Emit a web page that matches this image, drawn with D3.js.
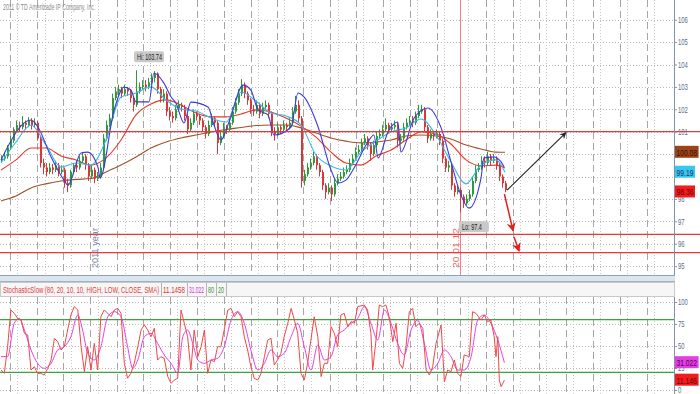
<!DOCTYPE html>
<html>
<head>
<meta charset="utf-8">
<script src="https://cdn.jsdelivr.net/npm/d3@7"></script>
<style>
  body { margin: 0; background: #fff; }
  svg { display: block; font-family: "Liberation Sans", Arial, sans-serif; }
</style>
</head>
<body>
<svg id="chart"></svg>
<script>
// ---- Data ----
// daily bars, open = previous close
const firstOpen = 99.7;
const closes = [
  99.8, 99.9, 100.3, 100.6, 101.1, 101.3, 101.2, 101.4, 101.3, 101.5,
  101.3, 101.4, 100.7, 99.6, 99.4, 99.2, 99.4, 99.3, 99.5, 99.2,
  99.3, 98.7, 98.6, 99.2, 99.5, 99.4, 99.7, 99.9, 99.5, 99.0,
  99.3, 98.9, 99.0, 99.4, 100.7, 101.3, 101.6, 102.5, 102.8, 102.9,
  102.7, 102.9, 102.8, 102.5, 102.2, 102.8, 103.0, 103.1, 103.0, 103.2,
  103.4, 103.6, 102.9, 102.5, 102.7, 101.9, 101.7, 101.6, 102.0, 102.2,
  102.1, 101.7, 101.1, 101.4, 101.8, 101.7, 101.5, 101.2, 100.9, 101.3,
  101.6, 101.4, 100.5, 100.8, 101.2, 101.1, 101.4, 101.9, 102.3, 102.7,
  103.1, 102.7, 102.4, 102.0, 101.9, 102.2, 101.8, 102.1, 102.2, 101.8,
  101.0, 100.9, 101.2, 101.1, 101.3, 101.2, 101.4, 101.9, 102.2, 101.6,
  98.8, 99.1, 99.4, 99.6, 99.9, 99.5, 99.2, 98.6, 98.3, 98.5,
  98.2, 98.7, 98.9, 99.0, 99.2, 99.3, 99.6, 99.8, 100.1, 100.2,
  100.5, 100.7, 100.4, 100.0, 100.4, 100.8, 100.9, 101.1, 101.3, 101.1,
  101.2, 101.3, 100.6, 100.7, 101.2, 101.4, 101.5, 101.4, 101.7, 101.9,
  102.0, 101.2, 100.7, 100.9, 100.8, 100.9, 100.6, 99.8, 99.4, 99.5,
  98.6, 98.3, 98.4, 98.1, 97.8, 98.0, 98.2, 98.8, 99.3, 99.4,
  99.7, 99.6, 99.9, 99.7, 99.8, 99.5, 99.0, 98.7, 98.4
];
const highs = [
  99.95, 100.1, 100.4, 100.8, 101.2, 101.5, 101.45, 101.7, 101.5, 101.65,
  101.6, 101.6, 101.5, 100.8, 99.8, 99.6, 99.6, 99.55, 99.7, 99.6,
  99.5, 99.4, 98.9, 99.3, 99.6, 99.7, 99.9, 100.1, 100.0, 99.6,
  99.5, 99.4, 99.2, 99.6, 100.9, 101.5, 101.8, 102.7, 103.0, 103.1,
  103.0, 103.1, 103.0, 102.9, 102.6, 103.74, 103.2, 103.3, 103.3, 103.4,
  103.6, 103.7, 103.65, 103.0, 102.9, 102.8, 102.1, 101.9, 102.2, 102.4,
  102.3, 102.2, 101.8, 101.6, 102.0, 101.9, 101.8, 101.6, 101.3, 101.5,
  101.8, 101.7, 101.5, 101.0, 101.4, 101.3, 101.6, 102.1, 102.5, 102.9,
  103.35, 103.2, 102.8, 102.5, 102.2, 102.4, 102.3, 102.3, 102.4, 102.3,
  101.9, 101.2, 101.4, 101.3, 101.5, 101.4, 101.6, 102.1, 102.6, 102.4,
  101.7, 99.3, 99.6, 99.8, 100.1, 100.0, 99.6, 99.3, 98.7, 98.7,
  98.6, 98.9, 99.1, 99.2, 99.4, 99.5, 99.8, 100.0, 100.3, 100.4,
  100.7, 100.9, 100.8, 100.5, 100.6, 101.0, 101.1, 101.3, 101.6, 101.4,
  101.4, 101.5, 101.4, 100.9, 101.4, 101.6, 101.7, 101.7, 101.9, 102.2,
  102.2, 102.1, 101.3, 101.1, 101.0, 101.1, 101.0, 100.7, 99.9, 99.7,
  99.6, 98.7, 98.6, 98.5, 98.2, 98.2, 98.4, 99.0, 99.5, 99.6,
  99.9, 99.9, 100.1, 100.0, 100.0, 99.9, 99.6, 99.1, 98.8
];
const lows = [
  99.6, 99.7, 99.8, 100.2, 100.5, 101.0, 101.0, 101.1, 101.1, 101.2,
  101.1, 101.2, 100.6, 99.4, 99.1, 99.0, 99.1, 99.1, 99.2, 99.0,
  99.1, 98.5, 98.3, 98.5, 99.1, 99.2, 99.3, 99.6, 99.3, 98.8,
  98.9, 98.7, 98.8, 98.9, 99.3, 100.6, 101.2, 101.5, 102.4, 102.6,
  102.5, 102.6, 102.6, 102.3, 101.9, 102.1, 102.7, 102.9, 102.8, 102.9,
  103.1, 103.2, 102.7, 102.3, 102.3, 101.7, 101.5, 101.4, 101.5, 101.9,
  101.9, 101.5, 100.9, 101.0, 101.3, 101.5, 101.3, 101.0, 100.7, 100.8,
  101.2, 101.2, 100.0, 100.4, 100.7, 100.9, 101.0, 101.3, 101.8, 102.2,
  102.6, 102.5, 102.2, 101.8, 101.7, 101.8, 101.6, 101.7, 102.0, 101.6,
  100.8, 100.6, 100.8, 100.9, 101.0, 101.0, 101.1, 101.3, 101.8, 101.4,
  98.5, 98.6, 99.0, 99.3, 99.5, 99.3, 99.0, 98.4, 98.0, 98.2,
  97.9, 98.1, 98.6, 98.8, 98.9, 99.1, 99.2, 99.5, 99.7, 100.0,
  100.1, 100.4, 100.2, 99.7, 99.9, 100.3, 100.7, 100.8, 101.0, 100.9,
  101.0, 101.1, 100.3, 100.5, 100.6, 101.1, 101.3, 101.2, 101.3, 101.6,
  101.8, 101.0, 100.5, 100.6, 100.6, 100.7, 100.4, 99.6, 99.2, 99.2,
  98.4, 98.1, 98.2, 97.4, 97.6, 97.7, 97.9, 98.1, 98.7, 99.2,
  99.3, 99.4, 99.5, 99.5, 99.6, 99.3, 98.8, 98.5, 98.3
];

// moving averages, read every 5 bars
const maBars = [0, 5, 10, 15, 20, 25, 30, 35, 40, 45, 50, 55, 60, 65, 70, 75, 80, 85, 90, 95,
  100, 105, 110, 115, 120, 125, 130, 135, 140, 145, 150, 155, 160, 165, 168];
const smaLong = [97.91, 98.13, 98.49, 98.67, 98.80, 98.87, 98.91, 99.20, 99.51, 99.87,
  100.27, 100.54, 100.72, 100.85, 100.99, 101.10, 101.19, 101.28, 101.30, 101.30,
  101.17, 100.94, 100.72, 100.58, 100.50, 100.54, 100.63, 100.81, 100.85, 100.81,
  100.67, 100.41, 100.23, 100.09, 100.08];
const smaMid = [99.29, 99.74, 100.27, 100.27, 99.92, 99.74, 99.51, 99.83, 100.63, 101.75,
  102.24, 102.42, 102.19, 101.83, 101.66, 101.66, 101.79, 101.97, 101.88, 101.61,
  101.25, 100.76, 100.09, 99.60, 99.51, 99.92, 100.18, 100.63, 100.99, 100.90,
  100.45, 99.74, 99.47, 99.51, 99.38];
const emaFast = [99.60, 100.54, 101.30, 100.41, 99.42, 99.60, 99.51, 100.63, 102.55, 102.73,
  103.00, 102.42, 102.01, 101.92, 101.61, 101.43, 102.77, 102.37, 101.83, 101.70,
  101.30, 99.96, 99.47, 99.29, 100.09, 100.58, 100.99, 101.17, 101.57, 100.85,
  99.65, 98.67, 99.51, 99.74, 99.19];
// blue line has sharp turns, so it is read at its corners
const blueBars = [0, 10, 12.3, 16.7, 21, 22.3, 26.7, 29, 32.3, 33,
  37.7, 41, 43.3, 45, 49.3, 51, 54.3, 56.7, 58.3, 61,
  63.3, 69, 71, 73.3, 76, 80.7, 83.3, 85.7, 89, 91,
  96.7, 99, 101, 105.7, 110, 112.3, 115, 117.7, 122.3, 124.3,
  125.7, 129, 132.3, 133.3, 137.7, 142.3, 146.7, 150, 153.3, 156,
  160, 161, 164.3, 166.7, 167.7];
const blueVals = [99.74, 101.52, 101.21, 99.87, 98.84, 98.62, 100.05, 100.09, 99.42, 98.93,
  101.97, 102.99, 102.86, 102.33, 102.33, 103.62, 103.17, 102.55, 102.28, 101.39,
  102.32, 102.10, 101.30, 100.63, 101.43, 103.08, 102.86, 101.97, 101.75, 100.85,
  101.21, 102.73, 102.55, 101.21, 99.29, 98.71, 98.84, 99.38, 100.54, 100.85,
  99.83, 100.99, 101.43, 100.09, 101.61, 102.06, 101.17, 99.65, 98.17, 97.59,
  98.93, 99.83, 99.87, 99.65, 99.42];

// stochastic slow: [bar, value]
const stochK = [[0,22.7],[1.1,18.9],[2.2,49.2],[3.3,90.9],[4.4,87.1],[5.6,81.4],[6.7,79.5],[7.8,64.4],[8.9,62.5],
  [10,22.7],[11.1,26.5],[12.2,18.9],[13.3,18.9],[14.4,17.0],[15.6,24.6],[16.7,34.1],[17.8,58.7],[18.9,54.9],
  [20,45.5],[21.1,49.2],[22.2,68.2],[23.3,85.2],[24.4,94.7],[25.6,90.9],[26.7,49.2],[27.8,20.8],[28.9,49.2],
  [30,22.7],[31.1,53.0],[32.2,22.7],[33.3,83.3],[34.4,90.9],[35.6,87.1],[36.7,83.3],[37.8,90.9],[38.9,92.8],
  [40,87.1],[41.1,30.3],[42.2,13.3],[43.3,18.9],[44.4,30.3],[45.6,49.2],[46.7,68.2],[47.8,73.9],[48.9,68.2],
  [50,60.6],[51.1,70.1],[52.2,34.1],[53.3,37.9],[54.4,36.0],[55.6,15.2],[56.7,7.6],[57.8,11.4],[58.9,13.3],
  [60,90.9],[61.1,75.8],[62.2,60.6],[63.3,22.7],[64.4,68.2],[65.6,37.9],[66.7,49.2],[67.8,68.2],[68.9,18.9],
  [70,34.1],[71.1,32.2],[72.2,49.2],[73.3,49.2],[74.4,68.2],[75.6,90.9],[76.7,92.8],[77.8,83.3],[78.9,89.0],
  [80,83.3],[81.1,60.6],[82.2,45.5],[83.3,26.5],[84.4,13.3],[85.6,11.4],[86.7,18.9],[87.8,37.9],[88.9,56.8],
  [90,58.7],[91.1,28.4],[92.2,34.1],[93.3,41.7],[94.4,60.6],[95.6,75.8],[96.7,92.8],[97.8,79.5],[98.9,64.4],
  [100,18.9],[101.1,11.4],[102.2,30.3],[103.3,56.8],[104.4,83.3],[105.6,60.6],[106.7,15.2],[107.8,30.3],[108.9,30.3],
  [110,72.0],[111.1,64.4],[112.2,49.2],[113.3,85.2],[114.4,87.1],[115.6,72.0],[116.7,77.7],[117.8,75.8],[118.9,94.7],
  [121.1,96.6],[122.2,90.9],[123.3,64.4],[123.9,22.7],[125,56.8],[126.1,96.6],[127.2,94.7],[128.3,96.6],[129.4,83.3],
  [130.6,54.9],[131.7,75.8],[132.8,30.3],[133.9,24.6],[135,49.2],[136.1,89.0],[137.2,92.8],[138.3,72.0],[139.4,75.8],
  [140.6,70.1],[141.7,22.7],[142.8,17.0],[143.9,26.5],[145,53.0],[146.7,73.9],[147.8,9.5],[148.9,22.7],[150,20.8],
  [151.1,34.1],[152.2,18.9],[153.3,15.2],[154.4,39.8],[156.1,37.9],[157.2,89.0],[158.3,87.1],[160,79.5],[161.1,85.2],
  [162.2,77.7],[163.3,79.5],[164.4,60.6],[165,37.9],[165.6,60.6],[166.1,11.4],[166.7,3.8],[167.8,11.1]];
const stochD = [[0,37.9],[2.2,37.9],[4.4,75.8],[6.1,81.4],[7.8,68.2],[10,45.5],[12.2,30.3],[14.4,24.6],[16.7,30.3],
  [18.9,45.5],[21.1,49.2],[23.3,60.6],[25.6,85.2],[27.2,68.2],[28.9,41.7],[31.1,34.1],[33.3,49.2],[35.6,83.3],
  [37.8,89.0],[40,83.3],[42.2,49.2],[43.9,24.6],[45.6,34.1],[47.8,60.6],[50,64.4],[52.2,53.0],[54.4,39.8],
  [56.7,30.3],[58.9,18.9],[60.6,60.6],[62.2,68.2],[63.9,53.0],[65.6,34.1],[67.8,30.3],[70,34.1],[72.2,36.0],
  [74.4,49.2],[76.7,79.5],[78.9,89.0],[81.1,75.8],[83.3,45.5],[85.6,22.7],[87.8,30.3],[90,45.5],[92.2,37.9],
  [94.4,41.7],[96.7,60.6],[98.9,75.8],[101.1,49.2],[103.3,22.7],[105.6,51.1],[107.8,34.1],[110,37.9],[112.2,62.5],
  [114.4,68.2],[116.7,75.8],[118.9,81.4],[121.1,94.7],[123.3,75.8],[125.6,56.8],[127.8,90.9],[130,75.8],[132.2,53.0],
  [134.4,39.8],[136.7,68.2],[138.9,79.5],[141.1,53.0],[143.3,22.7],[145.6,30.3],[147.8,45.5],[150,37.9],[152.2,22.7],
  [154.4,22.7],[156.7,37.9],[158.9,79.5],[161.1,85.2],[163.3,75.8],[165.6,56.8],[167.8,31.0]];

// levels, ticks, grid, annotations
const levels = [101.0, 96.42, 95.6];
const priceTicks = [95, 96, 97, 98, 99, 100, 101, 102, 103, 104, 105, 106];
const priceTicksCovered = [99, 100];   // hidden under the value bubbles
const stochTicks = [0, 25, 50, 75, 100];
const stochBands = [80, 20];
const majorGrid = [3, 12, 20.7, 29.7, 38.7, 47.3, 56.3, 65.3, 74.3, 83.2, 91.9, 100.8, 109.7, 118.3,
  127.3, 136.3, 145.2, 153, 161.7, 170.6, 179.3, 188.3, 197.2, 206.3, 215.2];
const minorGrid = [5.5, 14.5, 23.2, 32.2, 41.2, 49.8, 58.8, 67.8, 76.8, 85.7, 94.4, 103.3, 112.2, 120.8,
  129.8, 138.8, 147.7, 155.5, 164.2, 173.1, 181.8, 190.8, 199.7, 208.8, 217.7];
const yearMark = { bar: 32.3, label: "2011 year" };
const dateMark = { bar: 153, label: "20 01.12" };
const hiMark = { bar: 45, value: 103.74 };
const loMark = { bar: 153, value: 97.4 };
const upArrow = [[168.7, 98.39], [188.3, 100.96]];
const downArrows = [[[167.8, 98.22], [170.7, 96.57]], [[171, 96.3], [172.7, 95.67]]];
const bubbles = [
  { value: 100.08, text: "100.08", fill: "#9a4418", color: "#3a1204" },
  { value: 99.19, text: "99.19", fill: "#38c6f2", color: "#123a66" },
  { value: 98.31, text: "98.36", fill: "#f21c1c", color: "#6a0000" }
];
const stochBubbles = [
  { value: 31.022, text: "31.022", fill: "#e23ee2", color: "#560056" },
  { value: 11.146, text: "11.146", fill: "#f21c1c", color: "#6a0000" }
];
const stochTitle = "StochasticSlow (80, 20, 10, 10, HIGH, LOW, CLOSE, SMA)";
const stochReadouts = [
  { text: "11.1458", color: "#e03030" },
  { text: "31.022", color: "#d030d0" },
  { text: "80", color: "#2f9a2f" },
  { text: "20", color: "#2f9a2f" }
];
const readoutEdges = [161, 187, 206, 216, 226];

// ---- Layout ----
const W = 700, H = 394;
const axisX = 674;
const main = { top: 0, bottom: 275 };
const stoch = { top: 297, bottom: 394 };

const svg = d3.select("#chart").attr("width", W).attr("height", H);

const x = d3.scaleLinear().domain([0, 224]).range([1, 673]);
const y = d3.scaleLinear().domain([95, 106]).range([266.1, 19.7]);
const ys = d3.scaleLinear().domain([0, 100]).range([390, 302]);

// the source picture is squeezed sideways, so text is narrowed with a scale
function narrow(sel, perChar) {
  sel.each(function () {
    const t = d3.select(this);
    const tx = +t.attr("x") || 0, ty = +t.attr("y") || 0;
    const natural = this.getComputedTextLength();
    const k = natural > 0 ? (this.textContent.length * perChar) / natural : 1;
    t.attr("x", 0).attr("y", 0).attr("transform", `translate(${tx},${ty}) scale(${k},1)`);
  });
}

const defs = svg.append("defs");
defs.append("clipPath").attr("id", "clipMain").append("rect")
  .attr("x", 0).attr("y", main.top).attr("width", axisX).attr("height", main.bottom - main.top);
defs.append("clipPath").attr("id", "clipStoch").append("rect")
  .attr("x", 0).attr("y", stoch.top).attr("width", axisX).attr("height", stoch.bottom - stoch.top);
function arrowHead(id, color) {
  defs.append("marker").attr("id", id).attr("viewBox", "0 0 10 10")
    .attr("refX", 9).attr("refY", 5).attr("markerWidth", 6).attr("markerHeight", 6)
    .attr("orient", "auto-start-reverse")
    .append("path").attr("d", "M0,0 L10,5 L0,10 L3,5 Z").attr("fill", color);
}
arrowHead("arrowBlack", "#222");
arrowHead("arrowRed", "#e41c1c");

// ---- Grid ----
function drawGrid(g, top, bottom, yTicks, yScale) {
  g.selectAll("line.hgrid").data(yTicks).join("line")
    .attr("x1", 0).attr("x2", axisX)
    .attr("y1", d => Math.round(yScale(d)) + 0.5).attr("y2", d => Math.round(yScale(d)) + 0.5)
    .attr("stroke", "#b9b9b9").attr("stroke-dasharray", "1,2");
  g.append("g").selectAll("line").data(minorGrid).join("line")
    .attr("x1", d => Math.round(x(d)) + 0.5).attr("x2", d => Math.round(x(d)) + 0.5)
    .attr("y1", top).attr("y2", bottom)
    .attr("stroke", "#c4c4c4").attr("stroke-dasharray", "1,2");
  g.append("g").selectAll("line").data(majorGrid).join("line")
    .attr("x1", d => Math.round(x(d)) + 0.5).attr("x2", d => Math.round(x(d)) + 0.5)
    .attr("y1", top).attr("y2", bottom)
    .attr("stroke", "#a6a6a6").attr("stroke-dasharray", "7,4");
}

const gMain = svg.append("g");
drawGrid(gMain, main.top, main.bottom, priceTicks, y);
const gSt = svg.append("g");
drawGrid(gSt, stoch.top, stoch.bottom, stochTicks, ys);

// copyright
svg.append("text").attr("x", 3).attr("y", 10).attr("font-size", 9).attr("fill", "#8a8a8a")
  .text("2011 © TD Ameritrade IP Company, Inc.").call(narrow, 2.5);

// markers: year label and date line
gMain.append("text")
  .attr("transform", `translate(${x(yearMark.bar)},268) rotate(-90)`)
  .attr("font-size", 9).attr("fill", "#7486a2").text(yearMark.label)
  .attr("textLength", 40).attr("lengthAdjust", "spacingAndGlyphs");
gMain.append("line")
  .attr("x1", Math.round(x(dateMark.bar)) + 0.5).attr("x2", Math.round(x(dateMark.bar)) + 0.5)
  .attr("y1", main.top).attr("y2", main.bottom).attr("stroke", "#f08080");
gMain.append("text")
  .attr("transform", `translate(${x(dateMark.bar) - 1},268) rotate(-90)`)
  .attr("font-size", 9).attr("fill", "#e86a6a").text(dateMark.label)
  .attr("textLength", 40).attr("lengthAdjust", "spacingAndGlyphs");

// ---- Price panel ----
const plot = svg.append("g").attr("clip-path", "url(#clipMain)");

function maLine(vals, color, bars) {
  const pts = vals.map((v, i) => [bars[i], v]);
  plot.append("path").datum(pts)
    .attr("d", d3.line().x(d => x(d[0])).y(d => y(d[1])).curve(d3.curveMonotoneX))
    .attr("fill", "none").attr("stroke", color).attr("stroke-width", 1.1);
}
maLine(smaLong, "#a3502a", maBars);
maLine(smaMid, "#e23a2a", maBars);

// candles
const bars = closes.map((c, i) => ({ i, o: i === 0 ? firstOpen : closes[i - 1], c, h: highs[i], l: lows[i] }));
const up = "#2f9a3c", down = "#d8383a";
const candle = plot.append("g").selectAll("g").data(bars).join("g");
candle.append("line")
  .attr("x1", d => Math.round(x(d.i)) + 0.5).attr("x2", d => Math.round(x(d.i)) + 0.5)
  .attr("y1", d => y(d.h)).attr("y2", d => y(d.l))
  .attr("stroke", d => d.c >= d.o ? up : down);
candle.append("rect")
  .attr("x", d => Math.round(x(d.i)))
  .attr("width", 2)
  .attr("y", d => y(Math.max(d.o, d.c)))
  .attr("height", d => Math.max(1, Math.abs(y(d.o) - y(d.c))))
  .attr("fill", d => d.c >= d.o ? up : down);

maLine(emaFast, "#3cb6ea", maBars);
maLine(blueVals, "#3a3ad8", blueBars);

// horizontal levels
svg.append("g").selectAll("line").data(levels).join("line")
  .attr("x1", 0).attr("x2", W)
  .attr("y1", d => y(d)).attr("y2", d => y(d))
  .attr("stroke", "#e2393a").attr("stroke-width", 1.3);

// hi / lo bubbles
function bubble(bar, yTop, label) {
  const g = svg.append("g");
  const bx = x(bar) - 2;
  g.append("rect").attr("x", bx).attr("y", yTop).attr("width", 30).attr("height", 11)
    .attr("rx", 2).attr("fill", "#c9c9c9");
  g.append("text").attr("x", bx + 3).attr("y", yTop + 8.5).attr("font-size", 9)
    .attr("fill", "#222").text(label).call(narrow, 2.5);
}
bubble(hiMark.bar, y(hiMark.value) - 19, "Hi: " + hiMark.value);
bubble(loMark.bar + 0.3, y(loMark.value) + 9, "Lo: " + loMark.value);

// arrows
svg.append("line")
  .attr("x1", x(upArrow[0][0])).attr("y1", y(upArrow[0][1]))
  .attr("x2", x(upArrow[1][0])).attr("y2", y(upArrow[1][1]))
  .attr("stroke", "#222").attr("stroke-width", 1.1).attr("marker-end", "url(#arrowBlack)");
svg.append("g").selectAll("line").data(downArrows).join("line")
  .attr("x1", d => x(d[0][0])).attr("y1", d => y(d[0][1]))
  .attr("x2", d => x(d[1][0])).attr("y2", d => y(d[1][1]))
  .attr("stroke", "#e41c1c").attr("stroke-width", 1.5).attr("marker-end", "url(#arrowRed)");

// right axes
function rightAxis(scale, ticks, covered, top, bottom) {
  const g = svg.append("g").attr("transform", `translate(${axisX},0)`)
    .call(d3.axisRight(scale).tickValues(ticks).tickSize(3).tickPadding(1));
  g.select(".domain").remove();
  g.selectAll("line").attr("stroke", "#7f93ad");
  g.selectAll(".tick").filter(d => covered.includes(d)).select("text").remove();
  g.selectAll("text").attr("font-size", 9).attr("fill", "#5b6d8c")
    .attr("font-family", "Liberation Sans, Arial, sans-serif").call(narrow, 3.3);
  svg.append("line").attr("x1", axisX + 0.5).attr("x2", axisX + 0.5)
    .attr("y1", top).attr("y2", bottom).attr("stroke", "#7f93ad");
  return g;
}
rightAxis(y, priceTicks, priceTicksCovered, main.top, main.bottom);

function valueBoxes(list, scale) {
  const g = svg.append("g").selectAll("g").data(list).join("g")
    .attr("transform", d => `translate(${axisX + 1},${scale(d.value)})`);
  g.append("rect").attr("x", 0).attr("y", -6.5).attr("width", d => d.text.length * 3.6 + 2).attr("height", 12)
    .attr("fill", d => d.fill);
  g.append("text").attr("x", 1.5).attr("y", 3.5).attr("font-size", 9).attr("fill", d => d.color)
    .text(d => d.text).call(narrow, 3.4);
}
valueBoxes(bubbles, y);

// ---- Separator and study header ----
svg.append("rect").attr("x", 0).attr("y", 275).attr("width", axisX + 1).attr("height", 7).attr("fill", "#dbe5ef");
svg.append("line").attr("x1", 0).attr("x2", axisX + 1).attr("y1", 275.5).attr("y2", 275.5).attr("stroke", "#8fa2b8");
svg.append("line").attr("x1", 0).attr("x2", axisX + 1).attr("y1", 281.5).attr("y2", 281.5).attr("stroke", "#9fb1c5");
svg.append("rect").attr("x", 0.5).attr("y", 282.5).attr("width", axisX).attr("height", 14)
  .attr("fill", "#f6f6f6").attr("stroke", "#c9c9c9");

const header = svg.append("g");
header.append("text").attr("x", 3).attr("y", 293).attr("font-size", 9).attr("fill", "#e03a3a")
  .text(stochTitle).call(narrow, 2.9);
header.selectAll("line").data(readoutEdges).join("line")
  .attr("x1", d => d + 0.5).attr("x2", d => d + 0.5).attr("y1", 283).attr("y2", 296).attr("stroke", "#b5b5b5");
stochReadouts.forEach((r, i) => {
  const left = readoutEdges[i], right = readoutEdges[i + 1];
  header.append("text").attr("x", left + 2).attr("y", 293).attr("font-size", 9).attr("fill", r.color)
    .text(r.text).call(narrow, (right - left - 4) / r.text.length);
});

// ---- Stochastic panel ----
const stPlot = svg.append("g").attr("clip-path", "url(#clipStoch)");
stPlot.selectAll("line.band").data(stochBands).join("line")
  .attr("x1", 0).attr("x2", axisX)
  .attr("y1", d => ys(d)).attr("y2", d => ys(d))
  .attr("stroke", "#3fa13f").attr("stroke-width", 1.2);
stPlot.append("path").datum(stochD)
  .attr("d", d3.line().x(d => x(d[0])).y(d => ys(d[1])).curve(d3.curveMonotoneX))
  .attr("fill", "none").attr("stroke", "#e442e4").attr("stroke-width", 1);
stPlot.append("path").datum(stochK)
  .attr("d", d3.line().x(d => x(d[0])).y(d => ys(d[1])))
  .attr("fill", "none").attr("stroke", "#f04848").attr("stroke-width", 1);

rightAxis(ys, stochTicks, [], stoch.top, stoch.bottom);
valueBoxes(stochBubbles, ys);
</script>
</body>
</html>
